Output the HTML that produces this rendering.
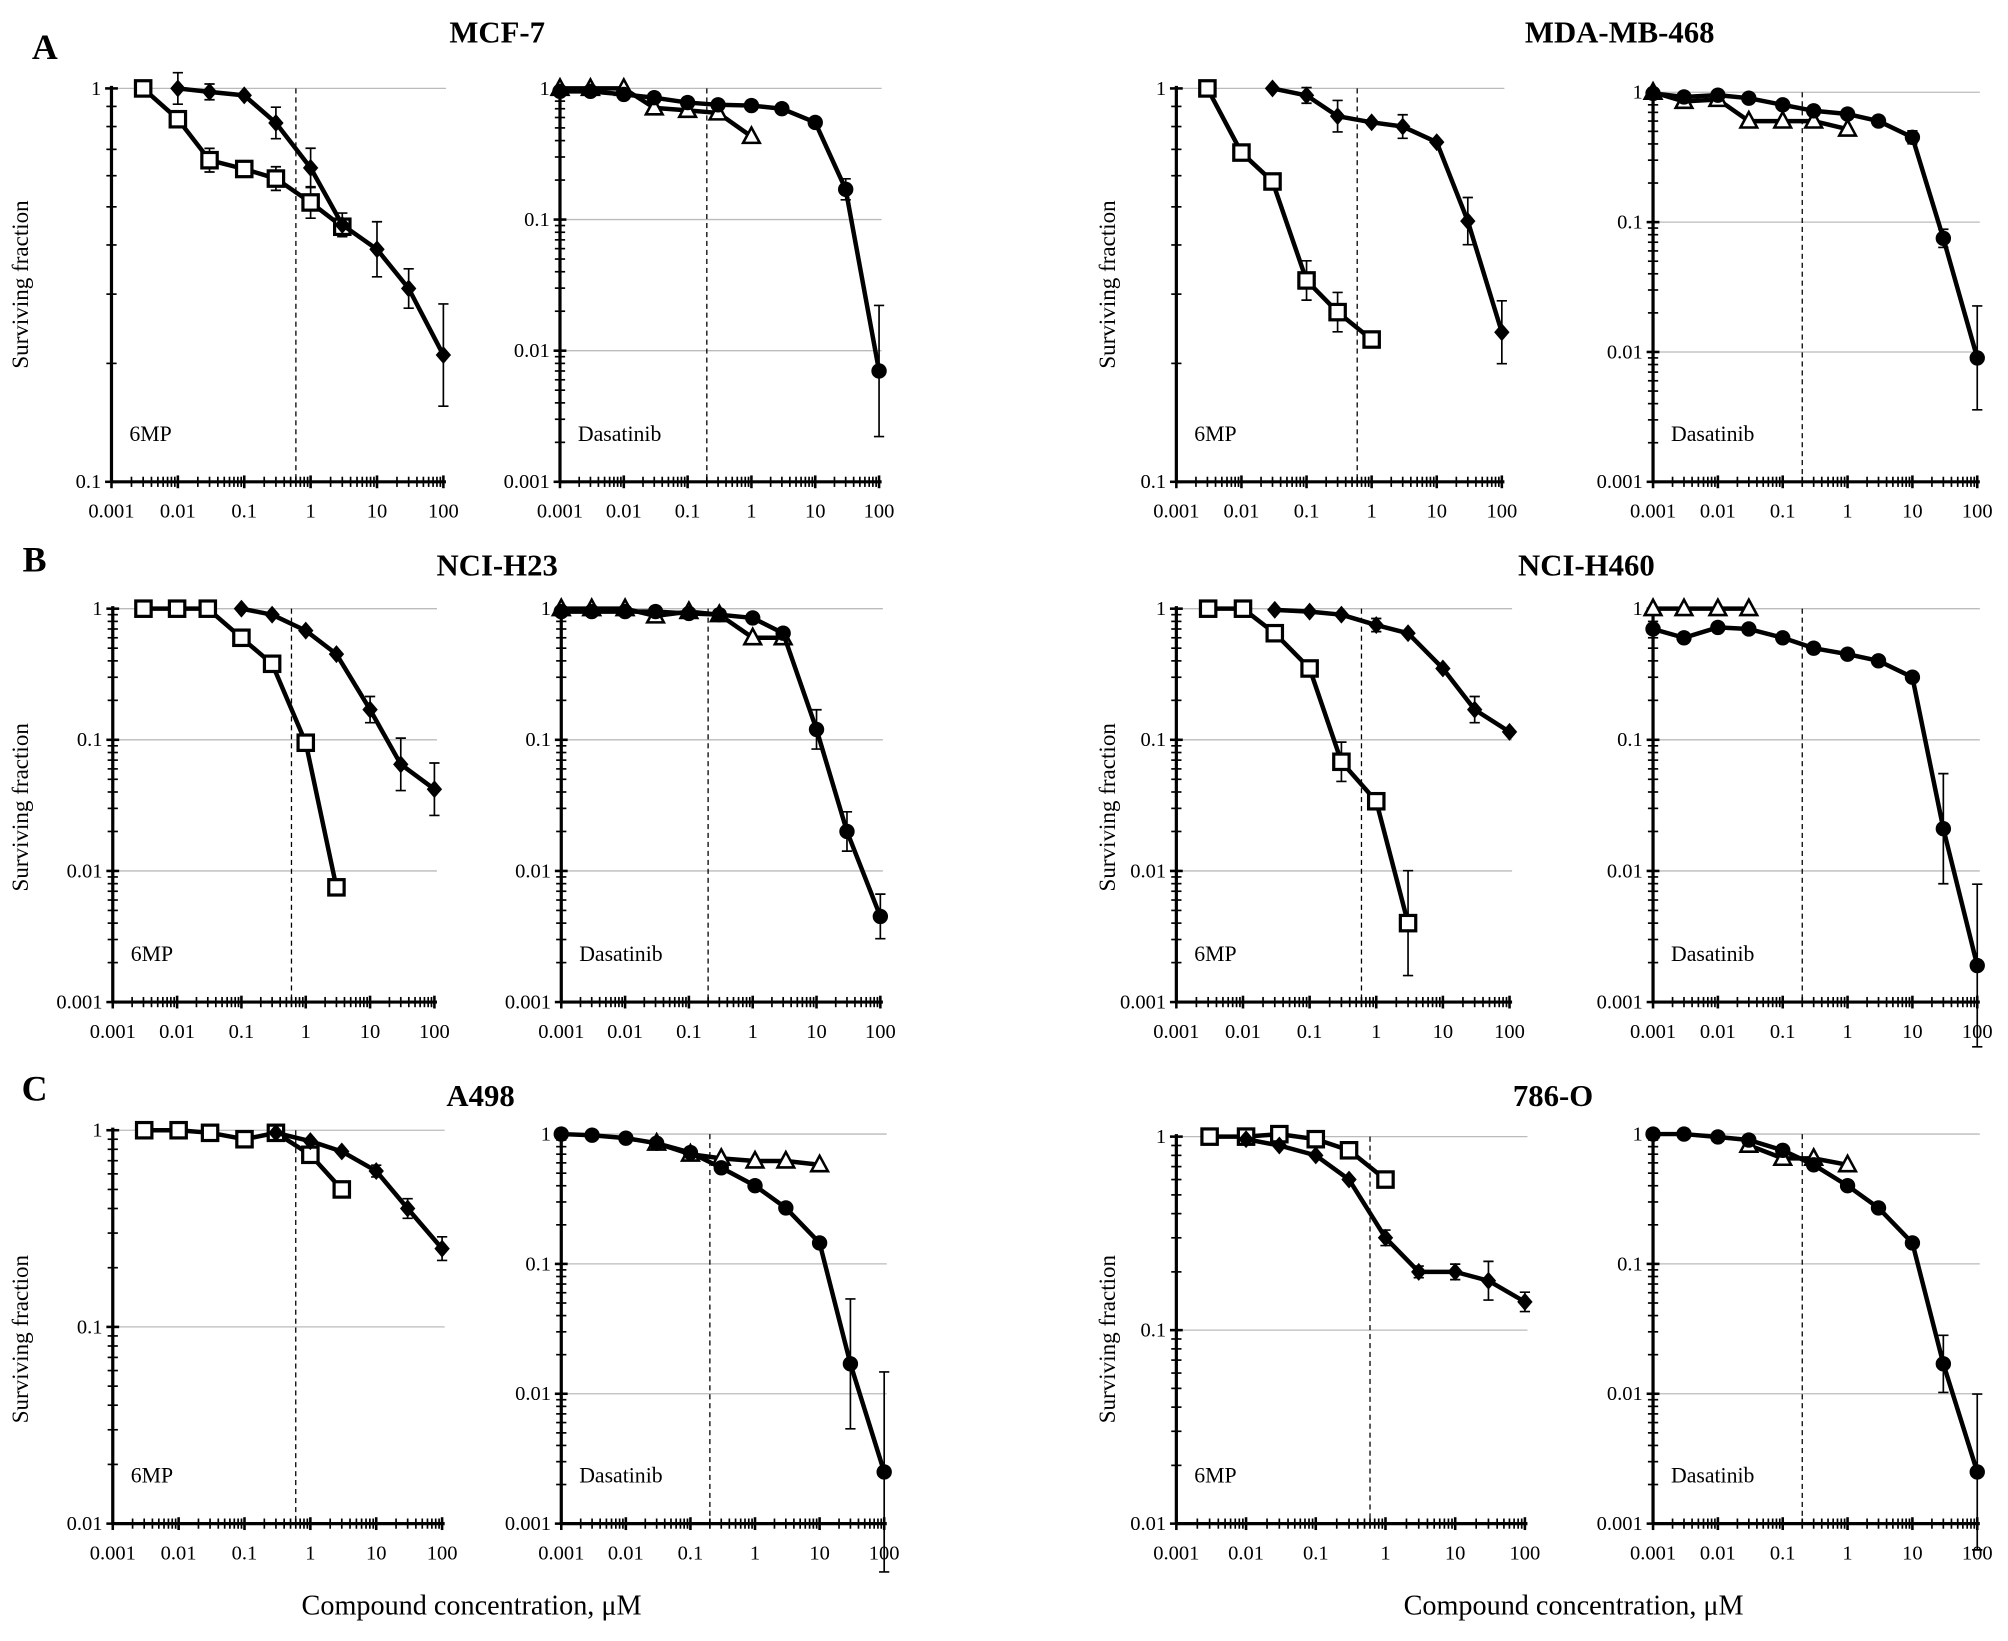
<!DOCTYPE html>
<html><head><meta charset="utf-8"><style>
html,body{margin:0;padding:0;background:#fff}
svg{display:block}
text{font-family:"Liberation Serif",serif;fill:#000}
</style></head><body>
<svg id="fig" width="2008" height="1641" viewBox="0 0 1567 1280.6" preserveAspectRatio="none" xmlns="http://www.w3.org/2000/svg"></svg>
<script>
const conc = [0.001,0.003,0.01,0.03,0.1,0.3,1,3,10,30,100];
const xTicks = ["0.001","0.01","0.1","1","10","100"];
const yTickLabels = ["1","0.1","0.01","0.001"];
// values aligned with conc; null = no point
const mcf_sq   = [null,1,0.835,0.657,0.624,0.59,0.513,0.445,null,null,null];
const mcf_dia  = [null,null,1,0.98,0.96,0.817,0.628,0.45,0.39,0.31,0.21];
const mcf_tri  = [1,1,1,0.71,0.68,0.65,0.43,null,null,null,null];
const mcf_cir  = [0.95,0.95,0.9,0.85,0.78,0.75,0.74,0.7,0.55,0.17,0.007];
const mda_sq   = [null,1,0.687,0.58,0.325,0.27,0.23,null,null,null,null];
const mda_dia  = [null,null,null,1,0.96,0.85,0.82,0.8,0.73,0.46,0.24];
const mda_tri  = [1,0.85,0.88,0.6,0.6,0.6,0.52,null,null,null,null];
const mda_cir  = [0.98,0.92,0.95,0.9,0.8,0.72,0.68,0.6,0.45,0.075,0.009];
const h23_sq   = [null,1,1,1,0.6,0.38,0.095,0.0075,null,null,null];
const h23_dia  = [null,null,null,null,1,0.9,0.68,0.45,0.17,0.065,0.042];
const h23_tri  = [1,1,1,0.88,0.95,0.9,0.6,0.6,null,null,null];
const h23_cir  = [0.95,0.95,0.95,0.95,0.92,0.9,0.85,0.65,0.12,0.02,0.0045];
const h460_sq  = [null,1,1,0.65,0.35,0.068,0.034,0.004,null,null,null];
const h460_dia = [null,null,null,0.98,0.95,0.9,0.75,0.65,0.35,0.17,0.115];
const h460_tri = [1,1,1,1,null,null,null,null,null,null,null];
const h460_cir = [0.7,0.6,0.72,0.7,0.6,0.5,0.45,0.4,0.3,0.021,0.0019];
const a498_sq  = [null,1,1,0.97,0.9,0.97,0.75,0.5,null,null,null];
const a498_dia = [null,null,null,null,null,0.97,0.88,0.78,0.62,0.4,0.25];
const a498_tri = [null,null,null,0.85,0.7,0.65,0.62,0.62,0.58,null,null];
const a498_cir = [1,0.98,0.93,0.85,0.72,0.55,0.4,0.27,0.145,0.017,0.0025];
const o786_sq  = [null,1,1,1.03,0.97,0.85,0.6,null,null,null,null];
const o786_dia = [null,null,0.97,0.9,0.8,0.6,0.3,0.2,0.2,0.18,0.14];
const o786_tri = [null,null,null,0.82,0.65,0.65,0.58,null,null,null,null];
const o786_cir = [1,1,0.95,0.9,0.75,0.58,0.4,0.27,0.145,0.017,0.0025];
// error half-widths in log10 units (0 = none)
const mcf_dia_err  = [0,0,0.04,0.02,0,0.04,0.05,0.03,0.07,0.05,0.13];
const mcf_sq_err   = [0,0,0,0.03,0,0.03,0.04,0,0,0,0];
const mcf_cir_err  = [0,0,0,0,0,0,0,0,0,0.08,0.5];
const mda_dia_err  = [0,0,0,0,0.02,0.04,0,0.03,0,0.06,0.08];
const mda_sq_err   = [0,0,0,0,0.05,0.05,0,0,0,0,0];
const mda_cir_err  = [0,0,0,0,0,0,0,0,0.05,0.07,0.4];
const h23_dia_err  = [0,0,0,0,0,0,0,0,0.1,0.2,0.2];
const h23_cir_err  = [0,0,0,0,0,0,0,0,0.15,0.15,0.17];
const h460_dia_err = [0,0,0,0,0,0,0.05,0,0,0.1,0];
const h460_sq_err  = [0,0,0,0,0.05,0.15,0,0.4,0,0,0];
const h460_cir_err = [0,0,0,0,0,0,0,0,0,0.42,0.62];
const a498_dia_err = [0,0,0,0,0,0,0,0,0.03,0.05,0.06];
const a498_cir_err = [0,0,0,0,0,0,0,0,0.03,0.5,0.77];
const o786_dia_err = [0,0,0,0,0,0,0.04,0.03,0.04,0.1,0.05];
const o786_cir_err = [0,0,0,0,0,0,0,0,0.03,0.22,0.6];

const NS="http://www.w3.org/2000/svg";
const svg=document.getElementById('fig');
function el(tag,attrs,parent,txt){const e=document.createElementNS(NS,tag);for(const k in attrs)e.setAttribute(k,attrs[k]);if(txt!=null)e.textContent=txt;(parent||svg).appendChild(e);return e;}

const panels=[
 {id:'mcf7-6mp',x0:87,x1:346,yT:69,yB:376,dec:1,label:'6MP',vline:0.6,series:[[mcf_sq,'sq',mcf_sq_err],[mcf_dia,'dia',mcf_dia_err]]},
 {id:'mcf7-dasatinib',x0:437,x1:686,yT:69,yB:376,dec:3,label:'Dasatinib',vline:0.2,series:[[mcf_tri,'tri',null],[mcf_cir,'cir',mcf_cir_err]]},
 {id:'mda-6mp',x0:918,x1:1172,yT:69,yB:376,dec:1,label:'6MP',vline:0.6,series:[[mda_sq,'sq',mda_sq_err],[mda_dia,'dia',mda_dia_err]]},
 {id:'mda-dasatinib',x0:1290,x1:1543,yT:72,yB:376,dec:3,label:'Dasatinib',vline:0.2,series:[[mda_tri,'tri',null],[mda_cir,'cir',mda_cir_err]]},
 {id:'h23-6mp',x0:88,x1:339,yT:475,yB:782,dec:3,label:'6MP',vline:0.6,series:[[h23_sq,'sq',null],[h23_dia,'dia',h23_dia_err]]},
 {id:'h23-dasatinib',x0:438,x1:687,yT:475,yB:782,dec:3,label:'Dasatinib',vline:0.2,series:[[h23_tri,'tri',null],[h23_cir,'cir',h23_cir_err]]},
 {id:'h460-6mp',x0:918,x1:1178,yT:475,yB:782,dec:3,label:'6MP',vline:0.6,series:[[h460_sq,'sq',h460_sq_err],[h460_dia,'dia',h460_dia_err]]},
 {id:'h460-dasatinib',x0:1290,x1:1543,yT:475,yB:782,dec:3,label:'Dasatinib',vline:0.2,series:[[h460_tri,'tri',null],[h460_cir,'cir',h460_cir_err]]},
 {id:'a498-6mp',x0:88,x1:345,yT:882,yB:1189,dec:2,label:'6MP',vline:0.6,series:[[a498_sq,'sq',null],[a498_dia,'dia',a498_dia_err]]},
 {id:'a498-dasatinib',x0:438,x1:690,yT:885,yB:1189,dec:3,label:'Dasatinib',vline:0.2,series:[[a498_tri,'tri',null],[a498_cir,'cir',a498_cir_err]]},
 {id:'786o-6mp',x0:918,x1:1190,yT:887,yB:1189,dec:2,label:'6MP',vline:0.6,series:[[o786_sq,'sq',null],[o786_dia,'dia',o786_dia_err]]},
 {id:'786o-dasatinib',x0:1290,x1:1543,yT:885,yB:1189,dec:3,label:'Dasatinib',vline:0.2,series:[[o786_tri,'tri',null],[o786_cir,'cir',o786_cir_err]]},
];

panels.forEach(p=>{
 const g=el('g',{});
 
 
 const xs=v=>p.x0+(Math.log10(v)+3)*(p.x1-p.x0)/5;
 const ys=v=>p.yT-Math.log10(v)*(p.yB-p.yT)/p.dec;
 const right=p.x1+2;
 for(let d=0;d<p.dec;d++){const y=ys(Math.pow(10,-d));const l=el('line',{x1:p.x0,x2:right,y1:y,y2:y,stroke:'#bbb','stroke-width':1},g);}
 const vx=xs(p.vline);
 const vl=el('line',{x1:vx,x2:vx,y1:p.yT,y2:p.yB,stroke:'#000','stroke-width':1,'stroke-dasharray':'4,3'},g);
 
 el('line',{x1:p.x0,x2:p.x0,y1:p.yT-2,y2:p.yB,stroke:'#000','stroke-width':2.5},g);
 el('line',{x1:p.x0,x2:right,y1:p.yB,y2:p.yB,stroke:'#000','stroke-width':2.5},g);
 for(let d=-3;d<=2;d++){
  const x=xs(Math.pow(10,d));
  el('line',{x1:x,x2:x,y1:p.yB-5,y2:p.yB+5,stroke:'#000','stroke-width':2},g);
  if(d<2)for(let m=2;m<=9;m++){const xm=xs(m*Math.pow(10,d));el('line',{x1:xm,x2:xm,y1:p.yB-4,y2:p.yB+4,stroke:'#000','stroke-width':1.3},g);}
  const t=el('text',{x:x,y:p.yB+28,'text-anchor':'middle','font-size':16},g,xTicks[d+3]);
  
 }
 for(let d=0;d<=p.dec;d++){
  const y=ys(Math.pow(10,-d));
  el('line',{x1:p.x0-5,x2:p.x0+5,y1:y,y2:y,stroke:'#000','stroke-width':2},g);
  if(d<p.dec)for(let m=2;m<=9;m++){const ym=ys(m*Math.pow(10,-d-1));el('line',{x1:p.x0-4,x2:p.x0+4,y1:ym,y2:ym,stroke:'#000','stroke-width':1.3},g);}
  const t=el('text',{x:p.x0-8,y:y+5,'text-anchor':'end','font-size':16},g,yTickLabels[d]);
  
 }
 const lb=el('text',{x:p.x0+14,y:p.yB-32,'font-size':17},g,p.label);
 
 // error bars
 p.series.forEach(([vals,mk,err])=>{
  if(!err)return;
  vals.forEach((v,i)=>{
   if(v==null||!err[i])return;
   const x=xs(conc[i]),y1=ys(v*Math.pow(10,err[i])),y2=ys(v/Math.pow(10,err[i]));
   const eb=el('path',{d:`M${x},${y1}V${y2}M${x-4},${y1}H${x+4}M${x-4},${y2}H${x+4}`,stroke:'#000','stroke-width':1.3,fill:'none'},g);
   
  });
 });
 p.series.forEach(([vals,mk])=>{
  const pts=[];vals.forEach((v,i)=>{if(v!=null)pts.push([xs(conc[i]),ys(v)]);});
  const pl=el('polyline',{points:pts.map(q=>q.join(',')).join(' '),fill:'none',stroke:'#000','stroke-width':3.5,'stroke-linejoin':'round'},g);
  
  pts.forEach(([x,y])=>{
   let m;
   if(mk==='sq')m=el('rect',{x:x-6,y:y-6,width:12,height:12,fill:'#fff',stroke:'#000','stroke-width':2.5},g);
   else if(mk==='dia')m=el('polygon',{points:`${x},${y-7} ${x+6},${y} ${x},${y+7} ${x-6},${y}`,fill:'#000'},g);
   else if(mk==='cir')m=el('circle',{cx:x,cy:y,r:6,fill:'#000'},g);
   else m=el('polygon',{points:`${x},${y-7} ${x+6.5},${y+5} ${x-6.5},${y+5}`,fill:'#fff',stroke:'#000','stroke-width':2},g);
   
  });
 });
});

const texts=[
 ['MCF-7',388,33,'title-mcf7'],['MDA-MB-468',1264,33,'title-mda-mb-468'],
 ['NCI-H23',388,449,'title-nci-h23'],['NCI-H460',1238,449,'title-nci-h460'],
 ['A498',375,863,'title-a498'],['786-O',1212,863,'title-786-o']];
texts.forEach(([s,x,y,n])=>{const t=el('text',{x:x,y:y,'text-anchor':'middle','font-size':24,'font-weight':'bold'},svg,s);});
[['A',35,46],['B',27,446],['C',27,859]].forEach(([s,x,y])=>{const t=el('text',{x:x,y:y,'text-anchor':'middle','font-size':28,'font-weight':'bold'},svg,s);});
[[22,222],[870,222],[22,630],[870,630],[22,1045],[870,1045]].forEach(([x,y])=>{const t=el('text',{x:x,y:y,'text-anchor':'middle','font-size':18,transform:`rotate(-90 ${x} ${y})`},svg,'Surviving fraction');});
[[368,1260],[1228,1260]].forEach(([x,y])=>{const t=el('text',{x:x,y:y,'text-anchor':'middle','font-size':22},svg,'Compound concentration, μM');});
</script>
</body></html>
